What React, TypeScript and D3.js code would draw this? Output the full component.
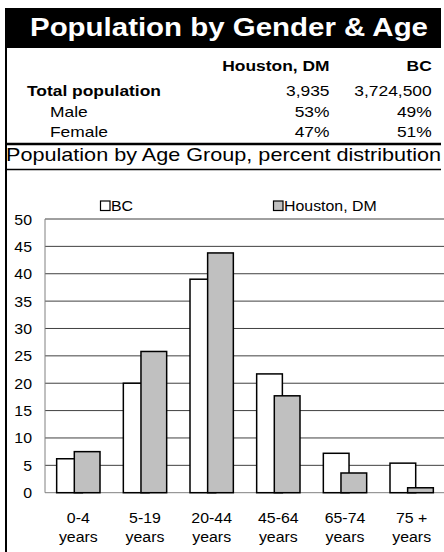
import React from "react";
import * as d3 from "d3";

const ageGroups = ["0-4", "5-19", "20-44", "45-64", "65-74", "75 +"];
const bcValues = [6.2, 20.0, 39.0, 21.7, 7.2, 5.4];
const houstonValues = [7.5, 25.8, 43.8, 17.7, 3.6, 0.9];
const yTicks = [0, 5, 10, 15, 20, 25, 30, 35, 40, 45, 50];
const seriesNames = ["BC", "Houston, DM"];
const tableColumns = ["Houston, DM", "BC"];
const tableRows = [
  { label: "Total population", bold: true, indent: false, values: ["3,935", "3,724,500"] },
  { label: "Male", bold: false, indent: true, values: ["53%", "49%"] },
  { label: "Female", bold: false, indent: true, values: ["47%", "51%"] },
];

const W = 444;
const H = 552;
const FONT = "'Liberation Sans', Arial, sans-serif";

export default function App() {
  const plotLeft = 45;
  const plotRight = 445;
  const yZero = 492.7;
  const yTop = 219;

  const x = d3.scaleBand<string>().domain(ageGroups).range([plotLeft, plotRight]).padding(0);
  const y = d3.scaleLinear().domain([0, 50]).range([yZero, yTop]);

  const bw = x.bandwidth();
  const groupSpan = bw * 0.65;
  const barW = groupSpan * 0.593;
  const tsx = 1.16; // header horizontal stretch
  const csx = 1.06; // chart text horizontal stretch

  const colRight = [329.5, 431.7];
  const rowBase = [96, 116.5, 137];

  return (
    <svg
      width={W}
      height={H}
      viewBox={`0 0 ${W} ${H}`}
      style={{ position: "absolute", left: 0, top: 0, background: "#fff", fontFamily: FONT }}
    >
      <rect x={0} y={0} width={W} height={H} fill="#fff" />
      {/* Title bar */}
      <rect x={5} y={8} width={436} height={40} fill="#000" />
      <text
        x={30}
        y={36}
        fill="#fff"
        fontSize={25}
        fontWeight="bold"
        textLength={398}
        lengthAdjust="spacingAndGlyphs"
      >
        Population by Gender &amp; Age
      </text>

      {/* left border */}
      <line x1={6} x2={6} y1={48} y2={H} stroke="#000" strokeWidth={2} />

      {/* table header */}
      {tableColumns.map((c, i) => (
        <text
          key={c}
          transform={`translate(${colRight[i]},70.5) scale(${tsx},1)`}
          textAnchor="end"
          fontSize={15}
          fontWeight="bold"
          fill="#000"
        >
          {c}
        </text>
      ))}
      {tableRows.map((r, ri) => (
        <g key={r.label}>
          <text
            transform={`translate(${r.indent ? 50 : 27},${rowBase[ri]}) scale(${tsx},1)`}
            fontSize={15}
            fontWeight={r.bold ? "bold" : "normal"}
            fill="#000"
          >
            {r.label}
          </text>
          {r.values.map((v, ci) => (
            <text
              key={ci}
              transform={`translate(${colRight[ci]},${rowBase[ri]}) scale(${tsx},1)`}
              textAnchor="end"
              fontSize={15}
              fill="#000"
            >
              {v}
            </text>
          ))}
        </g>
      ))}

      <line x1={5} x2={441} y1={144} y2={144} stroke="#000" strokeWidth={2.5} />
      <text x={6} y={161} fontSize={18.5} fill="#000" textLength={435} lengthAdjust="spacingAndGlyphs">
        Population by Age Group, percent distribution
      </text>
      <line x1={5} x2={441} y1={169.5} y2={169.5} stroke="#000" strokeWidth={1.5} />

      {/* legend */}
      {seriesNames.map((s, i) => {
        const lx = i === 0 ? 100 : 273;
        return (
          <g key={s}>
            <rect
              x={lx + 0.5}
              y={201}
              width={9.5}
              height={9.5}
              fill={i === 0 ? "#fff" : "#C0C0C0"}
              stroke="#000"
              strokeWidth={1.2}
            />
            <text transform={`translate(${lx + 11},210.5) scale(${csx},1)`} fontSize={15} fill="#000">
              {s}
            </text>
          </g>
        );
      })}

      {/* gridlines */}
      {yTicks.map((t) => (
        <g key={t}>
          <line
            x1={plotLeft}
            x2={plotRight}
            y1={y(t)}
            y2={y(t)}
            stroke={t === 0 ? "#808080" : "#404040"}
            strokeWidth={1}
          />
          <text
            transform={`translate(32,${y(t) + 5.5}) scale(${csx},1)`}
            textAnchor="end"
            fontSize={15}
            fill="#000"
          >
            {t}
          </text>
        </g>
      ))}
      <line x1={plotLeft} x2={plotLeft} y1={yTop} y2={yZero} stroke="#808080" strokeWidth={1} />

      {/* bars */}
      {ageGroups.map((g, i) => {
        const cx = (x(g) as number) + bw / 2;
        const gx = cx - groupSpan / 2;
        return (
          <g key={g}>
            <rect
              x={gx}
              y={y(bcValues[i])}
              width={barW}
              height={yZero - y(bcValues[i])}
              fill="#fff"
              stroke="#000"
              strokeWidth={1.5}
            />
            <rect
              x={gx + groupSpan - barW}
              y={y(houstonValues[i])}
              width={barW}
              height={yZero - y(houstonValues[i])}
              fill="#C0C0C0"
              stroke="#000"
              strokeWidth={1.5}
            />
            <text transform={`translate(${cx},522.5) scale(${csx},1)`} textAnchor="middle" fontSize={15} fill="#000">
              {g}
            </text>
            <text transform={`translate(${cx},541.5) scale(${csx},1)`} textAnchor="middle" fontSize={15} fill="#000">
              years
            </text>
          </g>
        );
      })}
    </svg>
  );
}
